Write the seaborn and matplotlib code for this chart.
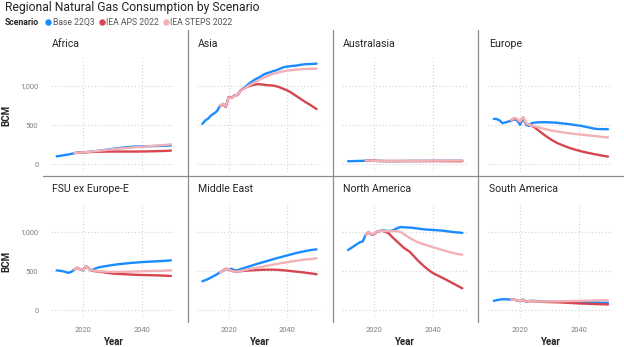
import matplotlib
matplotlib.use("Agg")
import matplotlib.pyplot as plt
from matplotlib.lines import Line2D
import seaborn as sns
import pandas as pd

# ---------------- data ----------------
regions = ["Africa", "Asia", "Australasia", "Europe",
           "FSU ex Europe-E", "Middle East", "North America", "South America"]
scenarios = ["Base 22Q3", "IEA APS 2022", "IEA STEPS 2022"]
years_base = list(range(2011, 2051))
years_iea = list(range(2017, 2051))

africa_base = [100, 106, 112, 118, 125, 132, 140, 148, 150, 150, 155, 158, 162, 166, 170, 175, 180, 185, 190, 195,
               200, 205, 210, 214, 218, 221, 224, 226, 227, 228, 229, 230, 231, 232, 233, 234, 235, 236, 238, 240]
africa_aps = [140, 147, 150, 150, 152, 155, 157, 158, 159, 160, 161, 161, 162, 162, 162, 162, 162, 162, 162, 162,
              162, 162, 162, 163, 163, 164, 165, 166, 167, 168, 169, 170, 172, 174]
africa_steps = [140, 147, 150, 150, 155, 158, 162, 166, 170, 174, 178, 182, 186, 190, 194, 198, 202, 205, 208, 211,
                214, 217, 220, 223, 226, 229, 232, 235, 238, 241, 244, 247, 250, 254]

asia_base = [517, 560, 585, 625, 650, 680, 745, 770, 735, 860, 850, 880, 885, 940, 970, 1000, 1035, 1060, 1085, 1105,
             1125, 1150, 1165, 1175, 1190, 1200, 1215, 1230, 1245, 1250, 1255, 1260, 1262, 1270, 1275, 1280, 1282,
             1283, 1285, 1288]
asia_aps = [745, 770, 735, 860, 850, 880, 890, 940, 965, 985, 1000, 1012, 1020, 1025, 1022, 1018, 1012, 1010, 1008,
            1000, 990, 975, 960, 944, 925, 900, 875, 850, 825, 800, 778, 755, 730, 705]
asia_steps = [750, 775, 740, 855, 850, 875, 890, 935, 960, 985, 1010, 1030, 1050, 1070, 1090, 1110, 1125, 1140, 1155,
              1165, 1175, 1185, 1192, 1198, 1203, 1207, 1211, 1214, 1217, 1219, 1220, 1221, 1222, 1222]

australasia_base = [38, 39, 40, 41, 42, 43, 45, 46, 45, 44, 42, 41, 41, 40, 40, 40, 40, 40, 40, 41,
                    41, 41, 41, 42, 42, 42, 42, 42, 43, 43, 43, 43, 43, 43, 44, 44, 44, 44, 44, 44]
australasia_aps = [45, 47, 46, 44, 42, 41, 41, 40, 40, 40, 40, 40, 40, 40, 40, 40, 40, 40, 40, 40,
                   40, 40, 40, 40, 40, 40, 39, 39, 39, 39, 38, 38, 38, 38]
australasia_steps = [45, 47, 46, 44, 42, 41, 41, 41, 41, 41, 42, 42, 42, 42, 43, 43, 43, 43, 44, 44,
                     44, 44, 44, 45, 45, 45, 45, 45, 46, 46, 46, 46, 46, 46]

europe_base = [580, 578, 560, 525, 535, 546, 558, 575, 560, 505, 588, 505, 490, 525, 533, 536, 537, 537, 537, 536,
               534, 532, 528, 524, 520, 516, 512, 506, 500, 495, 490, 482, 474, 466, 458, 452, 450, 449, 449, 448]
europe_aps = [565, 590, 575, 540, 600, 520, 505, 490, 470, 440, 410, 382, 355, 330, 305, 285, 265, 250,
              235, 220, 207, 195, 184, 174, 164, 155, 147, 139, 131, 124, 117, 110, 103, 97]
europe_steps = [565, 592, 578, 545, 605, 520, 505, 495, 485, 475, 465, 455, 445, 437, 430, 423, 417, 411,
                405, 400, 395, 390, 386, 382, 378, 374, 370, 366, 362, 358, 354, 350, 346, 342]

fsu_base = [510, 505, 500, 490, 478, 490, 520, 540, 525, 510, 565, 535, 510, 530, 545, 553, 560, 566, 572, 578,
            583, 588, 592, 596, 600, 604, 607, 610, 613, 616, 618, 620, 622, 624, 626, 628, 630, 632, 635, 638]
fsu_aps = [520, 545, 525, 515, 565, 530, 505, 500, 495, 490, 485, 480, 475, 470, 467, 465, 463, 461, 459, 457,
           455, 453, 452, 451, 450, 449, 448, 447, 446, 445, 444, 442, 440, 438]
fsu_steps = [520, 545, 525, 515, 565, 530, 510, 505, 500, 497, 495, 493, 491, 490, 490, 490, 491, 492, 493, 494,
             495, 496, 497, 498, 499, 500, 501, 502, 503, 504, 505, 507, 509, 511]

mideast_base = [370, 385, 400, 420, 440, 460, 485, 505, 530, 520, 530, 510, 512, 525, 537, 549, 561, 573, 585, 596,
                607, 618, 629, 640, 651, 662, 672, 682, 692, 702, 712, 722, 731, 740, 748, 756, 763, 770, 775, 779]
mideast_aps = [485, 505, 530, 520, 505, 495, 495, 500, 503, 506, 509, 511, 513, 515, 517, 518, 519, 519, 519, 518,
               516, 513, 510, 506, 502, 498, 494, 490, 486, 481, 476, 471, 466, 460]
mideast_steps = [485, 505, 530, 520, 505, 495, 495, 502, 510, 518, 526, 533, 540, 547, 554, 561, 568, 575, 582, 589,
                 596, 603, 609, 615, 621, 627, 633, 638, 643, 648, 652, 656, 660, 664]

namerica_base = [770, 795, 820, 845, 870, 880, 965, 1000, 970, 975, 1010, 1015, 1020, 1018, 1013, 1020, 1035, 1055,
                 1065, 1062, 1060, 1058, 1055, 1050, 1045, 1040, 1035, 1032, 1030, 1027, 1025, 1022, 1020, 1015,
                 1010, 1005, 1000, 997, 994, 990]
namerica_aps = [965, 1000, 970, 975, 1010, 1015, 1015, 1000, 980, 940, 905, 870, 835, 800, 775, 750, 710, 670, 630,
                595, 560, 530, 500, 475, 455, 437, 418, 400, 380, 360, 340, 320, 300, 280]
namerica_steps = [965, 1005, 975, 980, 1012, 1015, 1013, 1013, 1013, 1013, 1013, 1010, 1000, 975, 950, 925, 905, 885,
                  868, 855, 842, 830, 818, 806, 795, 784, 773, 762, 752, 742, 732, 722, 716, 710]

samerica_base = [120, 128, 135, 140, 140, 138, 136, 134, 125, 115, 135, 110, 118, 120, 118, 115, 114, 113, 112, 112,
                 111, 110, 110, 109, 108, 107, 107, 106, 105, 104, 103, 102, 101, 100, 99, 98, 97, 96, 95, 94]
samerica_aps = [136, 134, 125, 115, 130, 112, 115, 114, 112, 110, 108, 106, 105, 104, 103, 102, 101, 99, 97, 95,
                93, 91, 89, 87, 85, 84, 83, 81, 80, 78, 77, 76, 75, 73]
samerica_steps = [136, 134, 125, 115, 130, 112, 115, 114, 113, 112, 112, 112, 112, 113, 113, 114, 114, 115, 115, 116,
                  117, 118, 118, 119, 120, 121, 122, 123, 124, 125, 126, 126, 127, 128]

y_ticks = [0, 500, 1000]
y_tick_labels = ["0", "500", "1,000"]
x_ticks = [2020, 2040]
x_tick_labels = ["2020", "2040"]

series = {
    "Africa": (africa_base, africa_aps, africa_steps),
    "Asia": (asia_base, asia_aps, asia_steps),
    "Australasia": (australasia_base, australasia_aps, australasia_steps),
    "Europe": (europe_base, europe_aps, europe_steps),
    "FSU ex Europe-E": (fsu_base, fsu_aps, fsu_steps),
    "Middle East": (mideast_base, mideast_aps, mideast_steps),
    "North America": (namerica_base, namerica_aps, namerica_steps),
    "South America": (samerica_base, samerica_aps, samerica_steps),
}

rows = []
for reg in regions:
    b, a, s = series[reg]
    for yr, v in zip(years_base, b):
        rows.append((reg, scenarios[0], yr, v))
    for yr, v in zip(years_iea, a):
        rows.append((reg, scenarios[1], yr, v))
    for yr, v in zip(years_iea, s):
        rows.append((reg, scenarios[2], yr, v))
df = pd.DataFrame(rows, columns=["Region", "Scenario", "Year", "BCM"])

# ---------------- style ----------------
sns.set_theme(style="white")
FONT = ["Roboto", "DejaVu Sans"]
plt.rcParams["font.family"] = FONT

palette = {"Base 22Q3": "#1A8CFF", "IEA APS 2022": "#D64550", "IEA STEPS 2022": "#F2B1B6"}
TXT = "#252423"
TICK = "#7F7F7F"
SEP = "#8C8C8C"

W, H = 624, 347
fig = plt.figure(figsize=(W / 100, H / 100), dpi=100)

ax_left0 = 50.8
col_step = 145.7
ax_w = 124.5
ax_h = 114
row_bottoms = [172, 318]
title_y = [44, 189.5]

for i, reg in enumerate(regions):
    r, c = divmod(i, 4)
    left = ax_left0 + col_step * c
    ax = fig.add_axes([left / W, 1 - row_bottoms[r] / H, ax_w / W, ax_h / H])
    sub = df[df["Region"] == reg]
    sns.lineplot(data=sub, x="Year", y="BCM", hue="Scenario", hue_order=scenarios,
                 palette=palette, ax=ax, legend=False, linewidth=1.7, estimator=None)
    ax.set_xlim(2009, 2051.5)
    ax.set_ylim(-100, 1360)
    ax.set_yticks(y_ticks)
    ax.set_xticks(x_ticks)
    ax.grid(True, color="#D4D4D4", linestyle=(0, (1, 2)), linewidth=0.8)
    ax.set_axisbelow(True)
    for sp in ax.spines.values():
        sp.set_visible(False)
    ax.tick_params(axis="y", length=0, labelsize=5.4, labelcolor=TICK, pad=9)
    ax.tick_params(axis="x", length=0, labelsize=5.4, labelcolor=TICK, pad=6.5)
    if c == 0:
        ax.set_yticklabels(y_tick_labels)
        ax.set_ylabel("BCM", fontsize=7, fontweight="bold", color=TXT, labelpad=6)
    else:
        ax.set_yticklabels([])
        ax.set_ylabel("")
    if r == 1:
        ax.set_xticklabels(x_tick_labels)
        ax.set_xlabel("Year", fontsize=7, fontweight="bold", color=TXT, labelpad=2)
    else:
        ax.set_xticklabels([])
        ax.set_xlabel("")
    ax.patch.set_alpha(0)
    fig.text((left + 1) / W, 1 - title_y[r] / H, reg, ha="left", va="center",
             fontsize=7.6, color=TXT)

# separators
for xs in [187.5, 332.5, 478]:
    fig.add_artist(Line2D([xs / W, xs / W], [1 - 30 / H, 1 - 322 / H], color=SEP, linewidth=0.9))
fig.add_artist(Line2D([43 / W, 1.0], [1 - 176 / H, 1 - 176 / H], color=SEP, linewidth=0.9))

# title and legend
fig.text(5 / W, 1 - 8 / H, "Regional Natural Gas Consumption by Scenario", ha="left", va="center",
         fontsize=8.7, color=TXT)
fig.text(5 / W, 1 - 22.5 / H, "Scenario", ha="left", va="center", fontsize=6.2, fontweight="bold", color=TXT)
handles = [Line2D([], [], marker="o", linestyle="", markersize=3.6, color=palette[s]) for s in scenarios]
leg = fig.legend(handles, scenarios, loc="center left", bbox_to_anchor=(44 / W, 1 - 22.5 / H),
                 ncol=3, frameon=False, fontsize=6.2, handletextpad=0.0, columnspacing=0.35,
                 handlelength=1.0, borderpad=0, borderaxespad=0)
for t in leg.get_texts():
    t.set_color("#555555")

fig.savefig("out.png", dpi=100)
